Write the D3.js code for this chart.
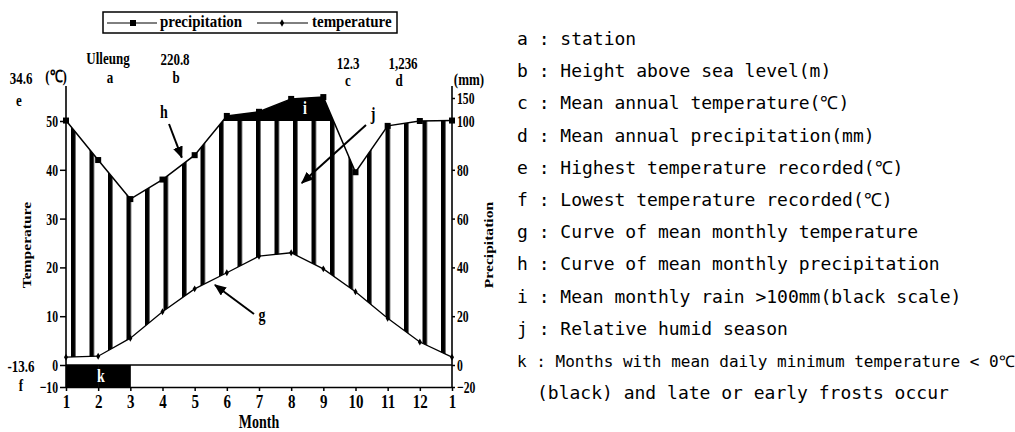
<!DOCTYPE html>
<html>
<head>
<meta charset="utf-8">
<script src="https://cdn.jsdelivr.net/npm/d3@7"></script>
<style>
  body { margin: 0; background: #fff; }
  .serif { font-family: "Liberation Serif", "Times New Roman", serif; font-weight: bold; }
  .mono { font-family: "DejaVu Sans Mono", monospace; font-size: 18px; }
  .tick line { stroke: #000; stroke-width: 1.5; }
  .domain { stroke: #000; stroke-width: 1.5; }
</style>
</head>
<body>
<script>
// climate diagram, Ulleung station

// months along the x axis (the year wraps back to January)
var months = ["1", "2", "3", "4", "5", "6", "7", "8", "9", "10", "11", "12"];
var monthLabels = months.concat(["1"]);
// mean monthly temperature (°C)
var tempValues = [1.6, 1.8, 5.5, 10.9, 15.6, 18.9, 22.3, 23.0, 19.7, 15.0, 9.6, 4.7];
// mean monthly precipitation (mm)
var precipValues = [101, 84, 68, 76, 86, 111, 120, 148, 152, 79, 98, 100];
// months with mean daily minimum below 0 °C
var frostMonths = [1, 2];

// axis ticks
var tempTicks = [-10, 0, 10, 20, 30, 40, 50];
var precipTicks = [-20, 0, 20, 40, 60, 80, 100, 150];

// station header values
var stationName = "Ulleung";
var stationHeight = "220.8";
var meanTemp = "12.3";
var annualPrecip = "1,236";
var maxTemp = "34.6";
var minTemp = "-13.6";

// explanation list on the right
var legendKeys = ["a", "b", "c", "d", "e", "f", "g", "h", "i", "j", "k", ""];
var legendTexts = [
  "station",
  "Height above sea level(m)",
  "Mean annual temperature(\u2103)",
  "Mean annual precipitation(mm)",
  "Highest temperature recorded(\u2103)",
  "Lowest temperature recorded(\u2103)",
  "Curve of mean monthly temperature",
  "Curve of mean monthly precipitation",
  "Mean monthly rain >100mm(black scale)",
  "Relative humid season",
  "Months with mean daily minimum temperature < 0\u2103",
  "(black) and late or early frosts occur"
];

(function(){
  var width = 1015, height = 432;
  var STRETCH = 1.3;

  var svg = d3.select("body").append("svg")
    .attr("width", width)
    .attr("height", height);

  // scales: 10 °C = 20 mm, precipitation above 100 mm compressed
  var x = d3.scaleLinear().domain([1, 13]).range([66, 452]);
  var yT = d3.scaleLinear().domain([-10, 0, 50]).range([387, 365, 121]);
  var yP = d3.scaleLinear().domain([-20, 0, 100, 150]).range([387, 365, 121, 98]);
  var axisTop = 86;

  // 13 points, last one repeats January
  var pts = monthLabels.map(function(m, i){
    return { m: i + 1, t: tempValues[i % 12], p: precipValues[i % 12] };
  });

  // bold serif label, stretched vertically like the scanned figure
  function label(x0, y0, txt, size, opts){
    opts = opts || {};
    var sx = opts.sx || 1, sy = opts.sy || STRETCH;
    var tr = "translate(" + x0 + "," + y0 + ")";
    if (opts.rotate) tr += " rotate(" + opts.rotate + ")";
    tr += " scale(" + sx + "," + sy + ")";
    return svg.append("text")
      .attr("class", "serif")
      .attr("transform", tr)
      .attr("text-anchor", opts.anchor || "middle")
      .style("font-size", size + "px")
      .attr("fill", opts.fill || "#000")
      .text(txt);
  }

  // move axis tick texts into a stretched transform
  function stretchTicks(sel, size, sx, sy){
    sel.style("font-size", size + "px")
      .attr("class", "serif")
      .attr("fill", "#000")
      .each(function(){
        var t = d3.select(this);
        var dy = t.attr("dy") || "0";
        var off = dy.indexOf("em") > 0 ? parseFloat(dy) * size : parseFloat(dy);
        var tx = +t.attr("x") || 0, ty = (+t.attr("y") || 0) + off * sy;
        t.attr("x", 0).attr("y", 0).attr("dy", null)
          .attr("transform", "translate(" + tx + "," + ty + ") scale(" + sx + "," + sy + ")");
      });
  }

  // *************************************************** //
  // defs: hatch pattern, clips, arrowhead
  var defs = svg.append("defs");
  var pat = defs.append("pattern")
    .attr("id", "hatch")
    .attr("patternUnits", "userSpaceOnUse")
    .attr("x", 71).attr("y", 0)
    .attr("width", 18.5).attr("height", height);
  pat.append("rect")
    .attr("width", 4.5).attr("height", height)
    .attr("fill", "#000");

  defs.append("clipPath").attr("id", "below100")
    .append("rect")
    .attr("x", 0).attr("y", yP(100))
    .attr("width", width).attr("height", height);
  defs.append("clipPath").attr("id", "above100")
    .append("rect")
    .attr("x", 0).attr("y", 0)
    .attr("width", width).attr("height", yP(100));

  defs.append("marker")
    .attr("id", "arrow")
    .attr("viewBox", "0 0 12 10")
    .attr("refX", 11).attr("refY", 5)
    .attr("markerWidth", 12).attr("markerHeight", 10)
    .attr("markerUnits", "userSpaceOnUse")
    .attr("orient", "auto")
    .append("path")
    .attr("d", "M0,0L12,5L0,10Z")
    .attr("fill", "#000");

  // *************************************************** //
  // humid season hatching between the curves
  var humid = d3.area()
    .x(function(d){ return x(d.m); })
    .y0(function(d){ return yT(d.t); })
    .y1(function(d){ return yP(d.p); });
  svg.append("path")
    .datum(pts)
    .attr("d", humid)
    .attr("fill", "url(#hatch)")
    .attr("clip-path", "url(#below100)");

  // rain above 100 mm in black
  var wet = d3.area()
    .x(function(d){ return x(d.m); })
    .y0(yP(100))
    .y1(function(d){ return yP(d.p); });
  svg.append("path")
    .datum(pts)
    .attr("d", wet)
    .attr("fill", "#000")
    .attr("clip-path", "url(#above100)");

  // frost months box
  svg.selectAll(".frost")
    .data(frostMonths)
    .enter()
    .append("rect")
    .attr("class", "frost")
    .attr("x", function(d){ return x(d); })
    .attr("y", yT(0))
    .attr("width", function(d){ return x(d + 1) - x(d) + 0.5; })
    .attr("height", yT(-10) - yT(0))
    .attr("fill", "#000");

  // zero line
  svg.append("line")
    .attr("x1", x(1)).attr("x2", x(13))
    .attr("y1", yT(0)).attr("y2", yT(0))
    .attr("stroke", "#000").attr("stroke-width", 1.5);

  // *************************************************** //
  // curves
  var tLine = d3.line()
    .x(function(d){ return x(d.m); })
    .y(function(d){ return yT(d.t); });
  var pLine = d3.line()
    .x(function(d){ return x(d.m); })
    .y(function(d){ return yP(d.p); });

  svg.append("path").datum(pts)
    .attr("d", tLine)
    .attr("fill", "none").attr("stroke", "#000").attr("stroke-width", 1.3);
  svg.append("path").datum(pts)
    .attr("d", pLine)
    .attr("fill", "none").attr("stroke", "#000").attr("stroke-width", 1.5);

  svg.selectAll(".tDot")
    .data(pts)
    .enter()
    .append("path")
    .attr("class", "tDot")
    .attr("d", d3.symbol().type(d3.symbolDiamond).size(14))
    .attr("transform", function(d){ return "translate(" + x(d.m) + "," + yT(d.t) + ")"; })
    .attr("fill", "#000");
  svg.selectAll(".pDot")
    .data(pts)
    .enter()
    .append("rect")
    .attr("class", "pDot")
    .attr("x", function(d){ return x(d.m) - 3; })
    .attr("y", function(d){ return yP(d.p) - 3; })
    .attr("width", 6).attr("height", 6)
    .attr("fill", "#000");

  // *************************************************** //
  // axes
  var gl = svg.append("g")
    .attr("transform", "translate(" + x(1) + ",0)")
    .call(d3.axisLeft(yT).tickValues(tempTicks).tickSize(6).tickPadding(2));
  gl.select(".domain").remove();
  stretchTicks(gl.selectAll("text"), 13, 0.9, STRETCH);

  var gr = svg.append("g")
    .attr("transform", "translate(" + x(13) + ",0)")
    .call(d3.axisRight(yP).tickValues(precipTicks).tickSize(3).tickPadding(2));
  gr.select(".domain").remove();
  stretchTicks(gr.selectAll("text"), 13, 0.9, STRETCH);

  [x(1), x(13)].forEach(function(xx){
    svg.append("line")
      .attr("x1", xx).attr("x2", xx)
      .attr("y1", axisTop).attr("y2", yT(-10))
      .attr("stroke", "#000").attr("stroke-width", 1.6);
  });

  var gb = svg.append("g")
    .attr("transform", "translate(0," + yT(-10) + ")")
    .call(d3.axisBottom(x)
      .tickValues(d3.range(1, 14))
      .tickFormat(function(d){ return monthLabels[d - 1]; })
      .tickSize(4).tickPadding(3).tickSizeOuter(0));
  stretchTicks(gb.selectAll("text"), 15, 1, STRETCH);

  // axis titles
  label(31, 245, "Temperature", 12, { rotate: -90, sx: STRETCH, sy: 1 });
  label(493, 245, "Precipitation", 12, { rotate: -90, sx: STRETCH, sy: 1 });
  label(x(7), 428, "Month", 14);

  // *************************************************** //
  // header values and letters
  label(108, 64, stationName, 13);
  label(110, 83, "a", 13);
  label(175, 65, stationHeight, 13);
  label(176, 83, "b", 13);
  label(348, 69, meanTemp, 13);
  label(348, 86, "c", 13);
  label(403, 69, annualPrecip, 13);
  label(399, 86, "d", 13);
  label(21, 84, maxTemp, 13);
  label(56, 82, "(\u2103)", 13);
  label(19, 106, "e", 13);
  label(469, 85, "(mm)", 13);
  label(21, 372, minTemp, 13);
  label(21, 391, "f", 13);

  // annotations inside the plot
  label(305, 114, "i", 14, { fill: "#fff" });
  label(101, 382, "k", 14, { fill: "#fff" });
  label(164, 118, "h", 14);
  label(373, 120, "j", 14);
  label(262, 321, "g", 14);

  function arrow(x1, y1, x2, y2){
    svg.append("line")
      .attr("x1", x1).attr("y1", y1)
      .attr("x2", x2).attr("y2", y2)
      .attr("stroke", "#000").attr("stroke-width", 2)
      .attr("marker-end", "url(#arrow)");
  }
  arrow(169, 124, x(4.6), yP(85));
  arrow(366, 125, x(8.33), yP(74.6));
  arrow(254, 314, x(5.63), yT(16.4));

  // *************************************************** //
  // series legend box
  svg.append("rect")
    .attr("x", 103).attr("y", 12)
    .attr("width", 294).attr("height", 21)
    .attr("fill", "none").attr("stroke", "#000").attr("stroke-width", 1.5);
  svg.append("line").attr("x1", 107).attr("x2", 157).attr("y1", 23).attr("y2", 23)
    .attr("stroke", "#000").attr("stroke-width", 1);
  svg.append("rect").attr("x", 130).attr("y", 20).attr("width", 6).attr("height", 6).attr("fill", "#000");
  label(160, 27, "precipitation", 15, { anchor: "start", sy: 1.1 });
  svg.append("line").attr("x1", 257).attr("x2", 308).attr("y1", 23).attr("y2", 23)
    .attr("stroke", "#000").attr("stroke-width", 1);
  svg.append("path")
    .attr("d", d3.symbol().type(d3.symbolDiamond).size(16))
    .attr("transform", "translate(282,23)")
    .attr("fill", "#000");
  label(312, 27, "temperature", 15, { anchor: "start", sy: 1.1 });

  // *************************************************** //
  // explanation list
  var list = svg.selectAll(".note")
    .data(legendTexts)
    .enter()
    .append("text")
    .attr("class", "note mono")
    .attr("x", function(d, i){ return legendKeys[i] ? 517 : 537; })
    .attr("y", function(d, i){ return 45 + i * 32.2; })
    .attr("xml:space", "preserve")
    .text(function(d, i){ return legendKeys[i] ? legendKeys[i] + " : " + d : d; });
  // the k line is set narrower in the figure
  list.filter(function(d, i){ return legendKeys[i] === "k"; })
    .style("font-size", "16px");
})();
</script>
</body>
</html>
